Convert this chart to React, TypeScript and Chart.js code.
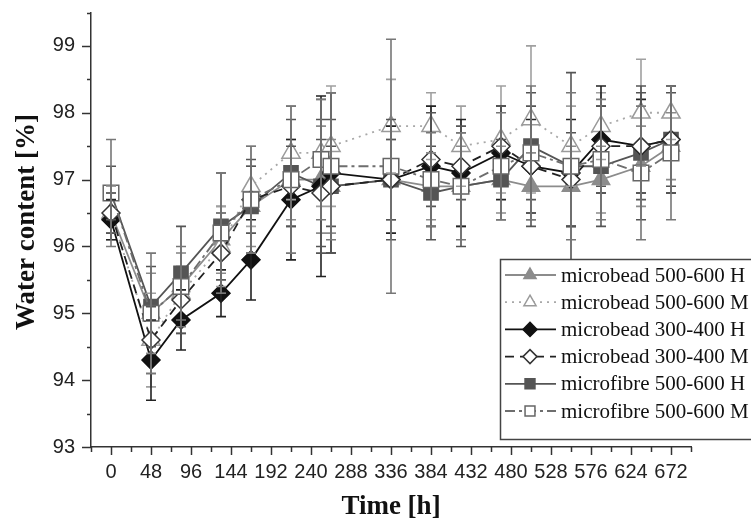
import React, { useEffect, useRef } from "react";
import { Chart, registerables } from "chart.js";

Chart.register(...registerables);

// ---------- data ----------
const TIME_H = [0, 48, 84, 132, 168, 216, 252, 264, 336, 384, 420, 468, 504, 552, 588, 636, 672];

const MB500_H = [96.5, 95.0, 95.4, 96.1, 96.6, 97.0, 97.0, 96.9, 97.0, 96.9, 96.9, 97.0, 96.9, 96.9, 97.0, 97.2, 97.5];
const MB500_H_ERR = [0.3, 0.6, 0.5, 0.5, 0.6, 0.6, 0.8, 0.7, 0.6, 0.5, 0.6, 0.5, 0.5, 0.6, 0.5, 0.6, 0.5];

const MB500_M = [96.5, 94.6, 95.3, 96.0, 96.9, 97.4, 97.4, 97.5, 97.8, 97.8, 97.5, 97.6, 97.9, 97.5, 97.8, 98.0, 98.0];
const MB500_M_ERR = [0.4, 0.7, 0.6, 0.6, 0.6, 0.7, 0.8, 0.9, 0.7, 0.5, 0.6, 0.8, 1.1, 0.6, 0.5, 0.8, 0.4];

const MB300_H = [96.4, 94.3, 94.9, 95.3, 95.8, 96.7, 96.9, 97.1, 97.0, 97.2, 97.1, 97.4, 97.2, 97.1, 97.6, 97.5, 97.6];
const MB300_H_ERR = [0.3, 0.6, 0.45, 0.35, 0.6, 0.9, 1.35, 1.2, 0.8, 0.9, 0.8, 0.7, 0.7, 0.8, 0.8, 0.7, 0.8];

const MB300_M = [96.5, 94.6, 95.2, 95.9, 96.7, 96.9, 96.8, 96.9, 97.0, 97.3, 97.2, 97.5, 97.2, 97.0, 97.5, 97.5, 97.6];
const MB300_M_ERR = [0.3, 0.5, 0.5, 0.6, 0.5, 0.6, 0.8, 0.6, 0.6, 0.7, 0.5, 0.6, 0.9, 0.7, 0.6, 0.8, 0.7];

const MF500_H = [96.8, 95.1, 95.6, 96.3, 96.6, 97.1, 96.9, 96.9, 97.0, 96.8, 96.9, 97.0, 97.5, 97.2, 97.2, 97.4, 97.6];
const MF500_H_ERR = [0.4, 0.6, 0.7, 0.8, 0.7, 0.8, 1.0, 1.0, 0.9, 0.7, 0.9, 0.6, 0.8, 1.4, 0.9, 1.0, 0.8];

const MF500_M = [96.8, 95.0, 95.4, 96.2, 96.7, 97.0, 97.3, 97.2, 97.2, 97.0, 96.9, 97.2, 97.4, 97.2, 97.3, 97.1, 97.4];
const MF500_M_ERR = [0.8, 0.9, 0.6, 0.9, 0.8, 1.1, 0.9, 1.1, 1.9, 0.7, 0.8, 0.8, 1.0, 1.1, 0.9, 1.0, 1.0];

const X_TICK_LABELS = [0, 48, 96, 144, 192, 240, 288, 336, 384, 432, 480, 528, 576, 624, 672];
const Y_TICK_LABELS = [93, 94, 95, 96, 97, 98, 99];

const X_TITLE = "Time [h]";
const Y_TITLE = "Water content [%]";

// ---------- styles ----------
type Style = {
  label: string;
  values: number[];
  errors: number[];
  color: string;
  errColor: string;
  dash: number[];
  width: number;
  shape: "triangle" | "rectRot" | "rect";
  radius: number;
  legendRadius: number;
  fill: string;
  stroke: string;
  order: number;
};

const SERIES: Style[] = [
  { label: "microbead 500-600 H", values: MB500_H, errors: MB500_H_ERR, color: "#8c8c8c", errColor: "#8c8c8c", dash: [], width: 1.8, shape: "triangle", radius: 10, legendRadius: 7, fill: "#8c8c8c", stroke: "#8c8c8c", order: 5 },
  { label: "microbead 500-600 M", values: MB500_M, errors: MB500_M_ERR, color: "#a8a8a8", errColor: "#a0a0a0", dash: [2, 5], width: 1.8, shape: "triangle", radius: 10.5, legendRadius: 7, fill: "#ffffff", stroke: "#9a9a9a", order: 4 },
  { label: "microbead 300-400 H", values: MB300_H, errors: MB300_H_ERR, color: "#111111", errColor: "#222222", dash: [], width: 1.8, shape: "rectRot", radius: 9, legendRadius: 7, fill: "#111111", stroke: "#111111", order: 2 },
  { label: "microbead 300-400 M", values: MB300_M, errors: MB300_M_ERR, color: "#222222", errColor: "#555555", dash: [9, 6], width: 1.8, shape: "rectRot", radius: 9, legendRadius: 7, fill: "#ffffff", stroke: "#333333", order: 1 },
  { label: "microfibre 500-600 H", values: MF500_H, errors: MF500_H_ERR, color: "#555555", errColor: "#555555", dash: [], width: 1.8, shape: "rect", radius: 10, legendRadius: 7, fill: "#555555", stroke: "#555555", order: 3 },
  { label: "microfibre 500-600 M", values: MF500_M, errors: MF500_M_ERR, color: "#6e6e6e", errColor: "#777777", dash: [10, 4, 3, 4], width: 1.8, shape: "rect", radius: 11, legendRadius: 7, fill: "#ffffff", stroke: "#666666", order: 0 },
];

// ---------- layout constants ----------
const AREA_LEFT = 91;
const AREA_TOP = 7;
const AREA_BOTTOM = 447;
const AREA_RIGHT = 691;

// ---------- helpers ----------
function drawMarker(ctx: CanvasRenderingContext2D, shape: string, x: number, y: number, r: number, fill: string, stroke: string) {
  ctx.beginPath();
  if (shape === "triangle") {
    ctx.moveTo(x, y - r);
    ctx.lineTo(x + r * 0.866, y + r * 0.5);
    ctx.lineTo(x - r * 0.866, y + r * 0.5);
    ctx.closePath();
  } else if (shape === "rectRot") {
    ctx.moveTo(x, y - r);
    ctx.lineTo(x + r, y);
    ctx.lineTo(x, y + r);
    ctx.lineTo(x - r, y);
    ctx.closePath();
  } else {
    const s = r * Math.SQRT1_2;
    ctx.rect(x - s, y - s, 2 * s, 2 * s);
  }
  ctx.fillStyle = fill;
  ctx.fill();
  ctx.strokeStyle = stroke;
  ctx.lineWidth = 1.5;
  ctx.setLineDash([]);
  ctx.stroke();
}

const errorBarPlugin = {
  id: "errorBars",
  afterDatasetsDraw(chart: any) {
    const { ctx, scales } = chart;
    const xs = scales.x;
    const ys = scales.y;
    ctx.save();
    ctx.setLineDash([]);
    SERIES.forEach((s) => {
      ctx.strokeStyle = s.errColor;
      ctx.lineWidth = 1.6;
      TIME_H.forEach((t, i) => {
        const x = xs.getPixelForValue(t);
        const yTop = ys.getPixelForValue(s.values[i] + s.errors[i]);
        const yBot = ys.getPixelForValue(s.values[i] - s.errors[i]);
        ctx.beginPath();
        ctx.moveTo(x, yTop);
        ctx.lineTo(x, yBot);
        ctx.moveTo(x - 5, yTop);
        ctx.lineTo(x + 5, yTop);
        ctx.moveTo(x - 5, yBot);
        ctx.lineTo(x + 5, yBot);
        ctx.stroke();
      });
    });
    ctx.restore();
  },
};

const decorPlugin = {
  id: "decor",
  afterDraw(chart: any) {
    const { ctx, scales, chartArea: a } = chart;
    const xs = scales.x;
    const ys = scales.y;
    ctx.save();
    ctx.setLineDash([]);
    ctx.strokeStyle = "#333";
    ctx.lineWidth = 1.5;
    // y ticks
    for (let k = 0; k <= 13; k++) {
      const v = 93 + k * 0.5;
      const yy = Math.round(ys.getPixelForValue(v)) + 0.5;
      const major = Y_TICK_LABELS.includes(v);
      ctx.beginPath();
      ctx.moveTo(a.left, yy);
      ctx.lineTo(a.left - (major ? 9 : 4), yy);
      ctx.stroke();
    }
    // x ticks
    for (let k = 0; k <= 30; k++) {
      const t = -24 + k * 24;
      const xx = Math.round(xs.getPixelForValue(t)) + 0.5;
      const major = X_TICK_LABELS.includes(t);
      ctx.beginPath();
      ctx.moveTo(xx, a.bottom);
      ctx.lineTo(xx, a.bottom + (major ? 8 : 5));
      ctx.stroke();
    }
    // axis titles
    ctx.fillStyle = "#111";
    ctx.font = 'bold 27px "Liberation Serif"';
    ctx.textAlign = "center";
    ctx.textBaseline = "middle";
    ctx.fillText(X_TITLE, (a.left + a.right) / 2, 507);
    ctx.save();
    ctx.translate(27, 222);
    ctx.rotate(-Math.PI / 2);
    ctx.fillText(Y_TITLE, 0, 0);
    ctx.restore();

    // legend
    const lx = 500.5;
    const ly = 259.5;
    const lh = 180;
    ctx.fillStyle = "#ffffff";
    ctx.fillRect(lx, ly, 300, lh);
    ctx.strokeStyle = "#444";
    ctx.lineWidth = 1.5;
    ctx.strokeRect(lx, ly, 300, lh);
    SERIES.forEach((s, i) => {
      const cy = 275 + i * 27.2;
      ctx.strokeStyle = s.color;
      ctx.lineWidth = 1.8;
      ctx.setLineDash(s.dash);
      ctx.beginPath();
      ctx.moveTo(505, cy);
      ctx.lineTo(556, cy);
      ctx.stroke();
      ctx.setLineDash([]);
      drawMarker(ctx, s.shape, 530, cy, s.legendRadius, s.fill, s.stroke);
      ctx.fillStyle = "#111";
      ctx.font = '21px "Liberation Serif"';
      ctx.textAlign = "left";
      ctx.textBaseline = "middle";
      ctx.fillText(s.label, 561, cy + 1);
    });
    ctx.restore();
  },
};

export default function App() {
  const ref = useRef<HTMLCanvasElement | null>(null);

  useEffect(() => {
    if (!ref.current) return;
    const datasets = SERIES.map((s) => ({
      label: s.label,
      data: TIME_H.map((t, i) => ({ x: t, y: s.values[i] })),
      borderColor: s.color,
      borderWidth: s.width,
      borderDash: s.dash,
      pointStyle: s.shape,
      pointRadius: s.radius,
      pointBackgroundColor: s.fill,
      pointBorderColor: s.stroke,
      pointBorderWidth: 1.5,
      tension: 0,
      fill: false,
      order: s.order,
    }));

    const chart = new Chart(ref.current, {
      type: "line",
      data: { datasets },
      options: {
        responsive: false,
        animation: false,
        devicePixelRatio: 1,
        layout: { padding: { top: AREA_TOP, right: 751 - AREA_RIGHT, left: 0, bottom: 0 } },
        plugins: { legend: { display: false }, tooltip: { enabled: false } },
        scales: {
          x: {
            type: "linear",
            min: -24,
            max: 696,
            afterFit: (s: any) => {
              s.height = 528 - AREA_BOTTOM;
              s.paddingLeft = 0;
              s.paddingRight = 0;
            },
            grid: { display: false, drawTicks: false },
            border: { display: true, color: "#333", width: 1.5 },
            ticks: {
              stepSize: 24,
              autoSkip: false,
              maxRotation: 0,
              padding: 13,
              color: "#222",
              font: { family: "Liberation Sans", size: 20 },
              callback: (v: any) => (X_TICK_LABELS.includes(Number(v)) ? String(v) : ""),
            },
          },
          y: {
            min: 93,
            max: 99.5,
            afterFit: (s: any) => {
              s.width = AREA_LEFT;
              s.paddingTop = 0;
              s.paddingBottom = 0;
            },
            grid: { display: false, drawTicks: false },
            border: { display: true, color: "#333", width: 1.5 },
            ticks: {
              stepSize: 0.5,
              autoSkip: false,
              padding: 16,
              color: "#222",
              font: { family: "Liberation Sans", size: 20 },
              callback: (v: any) => (Y_TICK_LABELS.includes(Number(v)) ? String(v) : ""),
            },
          },
        },
      },
      plugins: [errorBarPlugin, decorPlugin],
    } as any);
    return () => chart.destroy();
  }, []);

  return (
    <div style={{ position: "fixed", left: 0, top: 0, width: 751, height: 528, background: "#fff" }}>
      <canvas ref={ref} width={751} height={528} style={{ width: 751, height: 528, display: "block" }} />
    </div>
  );
}
